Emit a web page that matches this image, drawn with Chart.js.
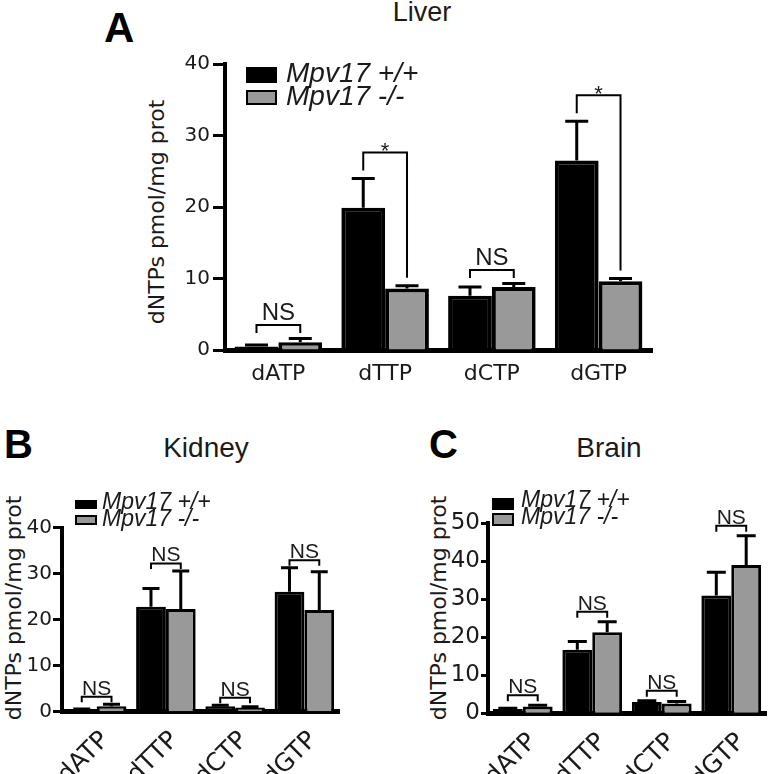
<!DOCTYPE html>
<html>
<head>
<meta charset="utf-8">
<title>dNTP pools - Mpv17</title>
<script src="https://cdn.jsdelivr.net/npm/chart.js@4"></script>
<style>
  body { margin:0; width:768px; height:774px; position:relative; overflow:hidden; background:#fff;
         font-family:'Liberation Sans', Arial, sans-serif; color:#1a1a1a; }
  .abs { position:absolute; white-space:nowrap; line-height:1; }
  .letter { font-weight:bold; color:#000; }
  .title { transform:translateX(-50%); }
  .ytitle { transform:translate(-50%,-50%) rotate(-90deg); font-family:'DejaVu Sans', sans-serif; }
  .leg { font-style:italic; }
  .swatch { position:absolute; box-sizing:border-box; border:2px solid #000; }
  canvas { position:absolute; }
</style>
</head>
<body>

<div class="abs letter" style="left:104px; top:7px; font-size:42px;">A</div>
<div class="abs title" style="left:422px; top:-1px; font-size:27px;">Liver</div>
<div class="abs ytitle" style="left:157px; top:212px; font-size:22px;">dNTPs pmol/mg prot</div>

<div class="abs letter" style="left:4px; top:424px; font-size:40px;">B</div>
<div class="abs title" style="left:206px; top:434px; font-size:28px;">Kidney</div>
<div class="abs ytitle" style="left:14px; top:608px; font-size:22px;">dNTPs pmol/mg prot</div>

<div class="abs letter" style="left:429px; top:424px; font-size:40px;">C</div>
<div class="abs title" style="left:609px; top:434px; font-size:28px;">Brain</div>
<div class="abs ytitle" style="left:439px; top:608px; font-size:22px;">dNTPs pmol/mg prot</div>

<canvas id="liverChart" width="500" height="400" style="left:170px; top:0px;"></canvas>
<canvas id="kidneyChart" width="360" height="304" style="left:0px; top:470px;"></canvas>
<canvas id="brainChart" width="384" height="304" style="left:384px; top:470px;"></canvas>

<div id="legends"></div>

<script>
  // data (mean and error, pmol/mg protein)
  const categories = ["dATP", "dTTP", "dCTP", "dGTP"];
  const seriesNames = ["Mpv17 +/+", "Mpv17 -/-"];
  const seriesColors = ["#000000", "#999999"];

  const liverWT = [0.5, 19.9, 7.6, 26.5];
  const liverWTErr = [0.2, 4.1, 1.2, 5.5];
  const liverKO = [1.1, 8.6, 8.8, 9.6];
  const liverKOErr = [0.5, 0.4, 0.5, 0.4];
  const liverSig = ["NS", "*", "NS", "*"];
  const liverTicks = [0, 10, 20, 30, 40];

  const kidneyWT = [0.4, 22.8, 1.2, 26.1];
  const kidneyWTErr = [0.2, 4.0, 0.2, 5.2];
  const kidneyKO = [1.2, 22.3, 0.9, 22.1];
  const kidneyKOErr = [0.4, 8.3, 0.2, 8.3];
  const kidneySig = ["NS", "NS", "NS", "NS"];
  const kidneyTicks = [0, 10, 20, 30, 40];

  const brainWT = [1.1, 16.7, 3.0, 31.0];
  const brainWTErr = [0.2, 2.2, 0.3, 6.1];
  const brainKO = [1.8, 21.3, 2.6, 39.0];
  const brainKOErr = [0.3, 2.8, 0.5, 7.7];
  const brainSig = ["NS", "NS", "NS", "NS"];
  const brainTicks = [0, 10, 20, 30, 40, 50];

  Chart.defaults.font.family = "'DejaVu Sans', sans-serif";
  Chart.defaults.color = "#1a1a1a";

  // error bars (mean + error, upward only) and significance brackets, from the chart's scales
  const annotate = {
    id: "annotate",
    afterDatasetsDraw(chart, args, o) {
      const ctx = chart.ctx;
      const y = chart.scales.y;
      const errs = o.errors;
      ctx.save();
      ctx.strokeStyle = "#000";
      ctx.lineWidth = 3;
      chart.data.datasets.forEach((ds, i) => {
        chart.getDatasetMeta(i).data.forEach((bar, j) => {
          const v = ds.data[j], e = errs[i][j];
          const top = y.getPixelForValue(v + e), base = y.getPixelForValue(v);
          ctx.beginPath();
          ctx.moveTo(bar.x, base); ctx.lineTo(bar.x, top);
          ctx.moveTo(bar.x - o.capW / 2, top); ctx.lineTo(bar.x + o.capW / 2, top);
          ctx.stroke();
        });
      });

      ctx.lineWidth = 2;
      ctx.fillStyle = "#1a1a1a";
      ctx.textAlign = "center";
      ctx.textBaseline = "alphabetic";
      const m0 = chart.getDatasetMeta(0).data, m1 = chart.getDatasetMeta(1).data;
      o.sig.forEach((s, j) => {
        const d0 = chart.data.datasets[0].data[j], d1 = chart.data.datasets[1].data[j];
        const t0 = y.getPixelForValue(d0 + errs[0][j]);
        const t1 = y.getPixelForValue(d1 + errs[1][j]);
        const xl = m0[j].x, xr = m1[j].x;
        let top, b0, b1;
        if (s === "*") {
          top = Math.min(t0, t1) - o.starGap;
          b0 = t0 - o.starLeg; b1 = t1 - o.starLeg;
        } else {
          top = Math.min(t0, t1) - o.nsGap;
          b0 = b1 = top + o.nsLeg;
        }
        ctx.beginPath();
        ctx.moveTo(xl, b0); ctx.lineTo(xl, top); ctx.lineTo(xr, top); ctx.lineTo(xr, b1);
        ctx.stroke();
        ctx.font = (s === "*" ? o.starFont : o.nsFont) + "px 'Liberation Sans', Arial, sans-serif";
        ctx.fillText(s, (xl + xr) / 2, s === "*" ? top + o.starDy : top - o.textGap);
      });
      ctx.restore();
    }
  };

  function makeChart(id, wt, wtErr, ko, koErr, sig, ticks, p) {
    return new Chart(document.getElementById(id), {
      type: "bar",
      data: {
        labels: categories,
        datasets: [
          { label: seriesNames[0], data: wt, backgroundColor: seriesColors[0], borderColor: "#000", borderWidth: p.barBorder },
          { label: seriesNames[1], data: ko, backgroundColor: seriesColors[1], borderColor: "#000", borderWidth: p.barBorder }
        ]
      },
      options: {
        responsive: false,
        animation: false,
        categoryPercentage: p.catPct,
        barPercentage: 1,
        layout: { autoPadding: false, padding: { left: 0, right: p.padRight, top: p.padTop, bottom: 0 } },
        plugins: {
          legend: { display: false },
          tooltip: { enabled: false },
          annotate: { errors: [wtErr, koErr], sig: sig, capW: p.capW, nsGap: p.nsGap, nsLeg: p.nsLeg,
                      starGap: 26, starLeg: 8, starDy: 6, starFont: 22, nsFont: p.nsFont, textGap: p.textGap }
        },
        scales: {
          x: {
            grid: { display: false, drawTicks: false },
            border: { display: true, color: "#000", width: 5 },
            ticks: { font: { size: p.xFont }, padding: p.xPad, labelOffset: p.xShift,
                     minRotation: p.rot, maxRotation: p.rot, autoSkip: false, color: "#1a1a1a" },
            afterFit: s => { s.height = p.xHeight; }
          },
          y: {
            min: ticks[0],
            max: ticks[ticks.length - 1],
            afterBuildTicks: s => { s.ticks = ticks.map(v => ({ value: v })); },
            ticks: { font: { size: p.yFont }, padding: p.yPad, color: "#1a1a1a" },
            grid: { drawOnChartArea: false, drawTicks: true, tickLength: p.tickLen, tickWidth: 3, tickColor: "#000", color: "#000" },
            border: { display: true, color: "#000", width: 4 },
            afterFit: s => { s.width = p.yWidth; }
          }
        }
      },
      plugins: [annotate]
    });
  }

  makeChart("liverChart", liverWT, liverWTErr, liverKO, liverKOErr, liverSig, liverTicks, {
    barBorder: 4, catPct: 0.82, padRight: 18, padTop: 64, xHeight: 50, yWidth: 55,
    xFont: 22, xPad: 11, xShift: 0, rot: 0, yFont: 20, yPad: 3, tickLen: 12,
    capW: 23, nsGap: 13.5, nsLeg: 8, nsFont: 24, textGap: 5
  });
  makeChart("kidneyChart", kidneyWT, kidneyWTErr, kidneyKO, kidneyKOErr, kidneySig, kidneyTicks, {
    barBorder: 3, catPct: 0.86, padRight: 21, padTop: 57.7, xHeight: 62.3, yWidth: 62,
    xFont: 25, xPad: 14, xShift: 9, rot: 45, yFont: 20, yPad: 1, tickLen: 9,
    capW: 17, nsGap: 7.5, nsLeg: 5.5, nsFont: 21, textGap: 2
  });
  makeChart("brainChart", brainWT, brainWTErr, brainKO, brainKOErr, brainSig, brainTicks, {
    barBorder: 3, catPct: 0.86, padRight: 2, padTop: 53.3, xHeight: 60.7, yWidth: 104,
    xFont: 25, xPad: 14, xShift: 10, rot: 45, yFont: 23, yPad: 1, tickLen: 7,
    capW: 19, nsGap: 10, nsLeg: 6, nsFont: 21, textGap: 2
  });

  // legends: swatch boxes + italic series names
  const legendSpots = [
    { x: 246, w: 31, boxes: [[67, 16], [90, 15]], tx: 286, font: 28, tops: [59, 82] },
    { x: 75, w: 22, boxes: [[500, 9], [515, 10]], tx: 102, font: 23, tops: [490, 507] },
    { x: 492, w: 22, boxes: [[498, 12], [513, 13]], tx: 521, font: 23, tops: [488, 505] }
  ];
  const host = document.getElementById("legends");
  legendSpots.forEach(L => {
    seriesNames.forEach((name, i) => {
      const sw = document.createElement("div");
      sw.className = "swatch";
      sw.style.cssText = `left:${L.x}px; top:${L.boxes[i][0]}px; width:${L.w}px; height:${L.boxes[i][1]}px; background:${seriesColors[i]};`;
      host.appendChild(sw);
      const t = document.createElement("div");
      t.className = "abs leg";
      t.style.cssText = `left:${L.tx}px; top:${L.tops[i]}px; font-size:${L.font}px;`;
      t.textContent = name;
      host.appendChild(t);
    });
  });
</script>
</body>
</html>
